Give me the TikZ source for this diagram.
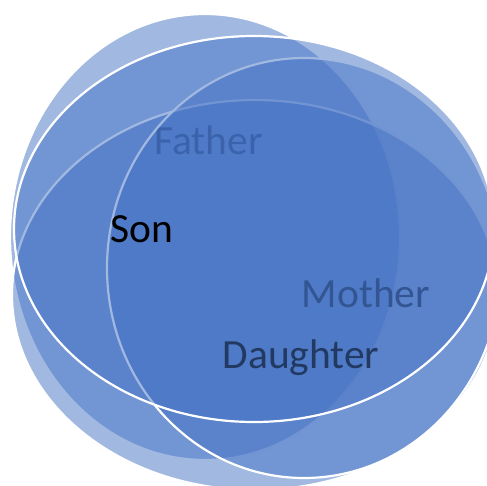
\documentclass[tikz,border=0pt]{standalone}
\usepackage{fontspec}
\setmainfont{Carlito}
\definecolor{vennblue}{HTML}{4472C4}
\tikzset{
  vennshape/.style={fill=vennblue, fill opacity=0.5, draw=white, draw opacity=1, line width=2.2pt},
  vennlabel/.style={anchor=base, inner sep=0pt, text=black, font=\fontsize{41.5}{50}\selectfont}
}
\begin{document}
\begin{tikzpicture}[x=1pt, y=-1pt]
\useasboundingbox (0,0) rectangle (487,485);
% Father
\path[vennshape] (205,237) ellipse [x radius=195, y radius=223];
\node[vennlabel] (father) at (208.5,154) {Father};
% Mother
\path[vennshape] (255,295) ellipse [x radius=243, y radius=195];
\node[vennlabel] (mother) at (366,307) {Mother};
% Daughter
\path[vennshape] (304,268) ellipse [x radius=197, y radius=210];
\node[vennlabel] (daughter) at (301,368) {Daughter};
% Son
\path[vennshape] (254,229) ellipse [x radius=240, y radius=193];
\node[vennlabel] (son) at (141.5,242) {Son};
\end{tikzpicture}
\end{document}
